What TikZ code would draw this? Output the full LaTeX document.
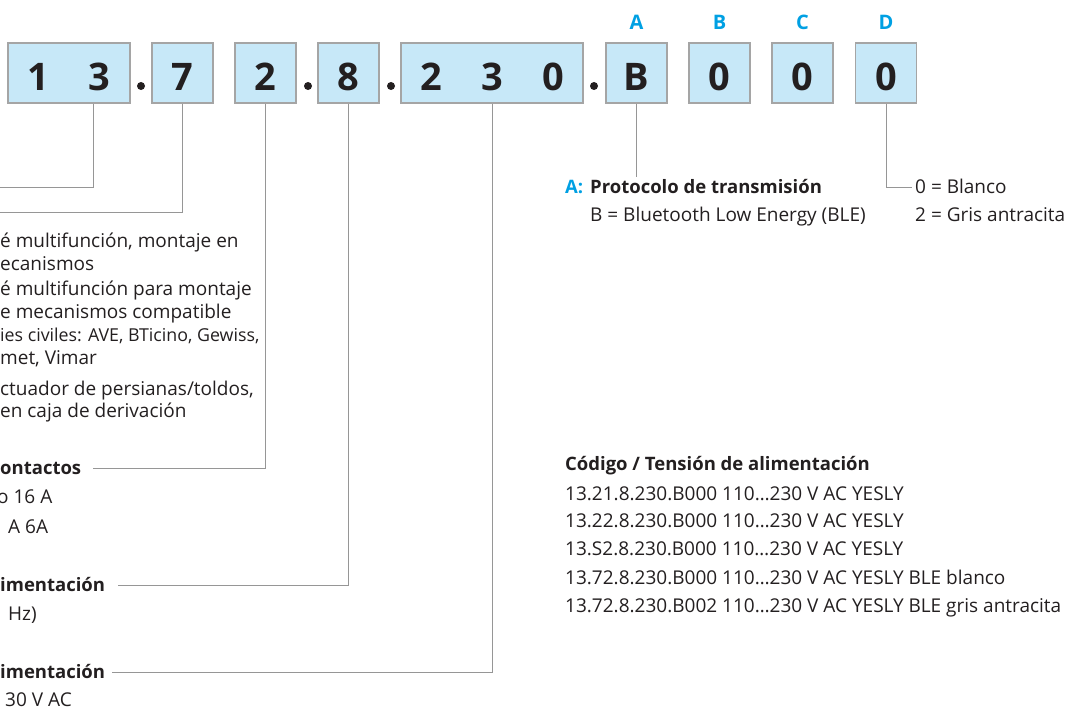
\documentclass[tikz,border=0pt]{standalone}
\usepackage{fontspec}
\setmainfont{Open Sans}
\usetikzlibrary{positioning,calc}
\definecolor{ink}{RGB}{35,31,32}
\definecolor{keycyan}{RGB}{0,160,227}
\definecolor{cellblue}{RGB}{199,232,248}
\definecolor{cellline}{RGB}{165,165,165}
\definecolor{rule}{RGB}{150,150,150}

\begin{document}
\begin{tikzpicture}[x=1pt,y=-1pt,
  cell/.style={draw=cellline,line width=1.3pt,fill=cellblue,minimum height=60pt,inner sep=0pt},
  digit/.style={font=\fontsize{38}{38}\selectfont\bfseries,text=ink,anchor=base,inner sep=0pt},
  dotmark/.style={circle,fill=ink,inner sep=0pt,minimum size=8pt},
  key/.style={font=\fontsize{20}{20}\selectfont\bfseries,text=keycyan},
  txt/.style={font=\fontsize{19}{19}\selectfont,text=ink,anchor=base west,inner sep=0pt},
  head/.style={txt,font=\fontsize{18.5}{18.5}\selectfont\bfseries},
  conn/.style={draw=rule,line width=1pt}]
\useasboundingbox (0,0) rectangle (1071,709);
% code boxes
\node[cell,minimum width=122pt] (b13) at (69,73) {};
\node[cell,minimum width=61pt] (b7) at (182.5,73) {};
\node[cell,minimum width=61pt] (b2) at (265.5,73) {};
\node[cell,minimum width=61pt] (b8) at (348.5,73) {};
\node[cell,minimum width=182pt] (b230) at (492,73) {};
\node[cell,minimum width=61pt] (bB) at (636.5,73) {};
\node[cell,minimum width=61pt] (bK1) at (719.5,73) {};
\node[cell,minimum width=61pt] (bK2) at (802.5,73) {};
\node[cell,minimum width=61pt] (bK3) at (886,73) {};
\node[digit] (d1) at (38,91) {1};
\node[digit] (d3) at (99,91) {3};
\node[digit] (d7) at (182.5,91) {7};
\node[digit] (d2) at (265.5,91) {2};
\node[digit] (d8) at (348.5,91) {8};
\node[digit] (v2) at (431,91) {2};
\node[digit] (v3) at (492,91) {3};
\node[digit] (v0) at (553,91) {0};
\node[digit] (dB) at (636.5,91) {B};
\node[digit] (k1) at (719.5,91) {0};
\node[digit] (k2) at (802.5,91) {0};
\node[digit] (k3) at (886,91) {0};
\node[dotmark] (p1) at (141,86) {};
\node[dotmark] (p2) at (308,86) {};
\node[dotmark] (p3) at (391,86) {};
\node[dotmark] (p4) at (594,86) {};
\node[key] (kA) at (636.5,22) {A};
\node[key] (kB) at (719.5,22) {B};
\node[key] (kC) at (802.5,22) {C};
\node[key] (kD) at (886,22) {D};

% left column
\node[txt] (t1) at (0,247) {é multifunción, montaje en};
\node[txt] (t2) at (0,270) {ecanismos};
\node[txt] (t3) at (0,295) {é multifunción para montaje};
\node[txt] (t4) at (0,318) {e mecanismos compatible};
\node[txt,font=\fontsize{17.8}{19}\selectfont] (t5) at (0,341) {ies civiles: AVE, BTicino, Gewiss,};
\node[txt] (t6) at (0,364) {met, Vimar};
\node[txt] (t7) at (0,395) {ctuador de persianas/toldos,};
\node[txt] (t8) at (0,417) {en caja de derivación};
\node[head] (hc) at (0,474) {ontactos};
\node[txt] (c1) at (-3,503) {o 16 A};
\node[txt] (c2) at (8,533) {A 6A};
\node[head] (hf) at (0,591) {imentación};
\node[txt] (f1) at (8,620) {Hz)};
\node[head] (hv) at (0,678) {imentación};
\node[txt] (v1) at (5,706) {30 V AC};

% right column
\node[head,text=keycyan] (tAk) at (565,193) {A:};
\node[head] (tA) at (590,193) {Protocolo de transmisión};
\node[txt] (tA1) at (590,221) {B = Bluetooth Low Energy (BLE)};
\node[txt] (tD0) at (915,193) {0 = Blanco};
\node[txt] (tD2) at (915,221) {2 = Gris antracita};
\node[head] (code) at (565,470) {Código / Tensión de alimentación};
\node[txt] (r1) at (565,500) {13.21.8.230.B000 110…230 V AC YESLY};
\node[txt] (r2) at (565,527) {13.22.8.230.B000 110…230 V AC YESLY};
\node[txt] (r3) at (565,555) {13.S2.8.230.B000 110…230 V AC YESLY};
\node[txt] (r4) at (565,584) {13.72.8.230.B000 110…230 V AC YESLY BLE blanco};
\node[txt] (r5) at (565,612) {13.72.8.230.B002 110…230 V AC YESLY BLE gris antracita};

% connectors
\coordinate (e13) at (0,187);
\coordinate (e7) at (0,212);
\coordinate (e2) at (93,468);
\coordinate (e8) at (118,585);
\coordinate (e230) at (112,672);
\coordinate (eB) at (636.5,177);
\coordinate (eD) at (912,187);
\draw[conn] ([xshift=24pt]b13.south) |- (e13);
\draw[conn] (b7.south) |- (e7);
\draw[conn] (b2.south) |- (e2);
\draw[conn] (b8.south) |- (e8);
\draw[conn] (b230.south) |- (e230);
\draw[conn] (bB.south) -- (eB);
\draw[conn] (bK3.south) |- (eD);
\end{tikzpicture}
\end{document}
